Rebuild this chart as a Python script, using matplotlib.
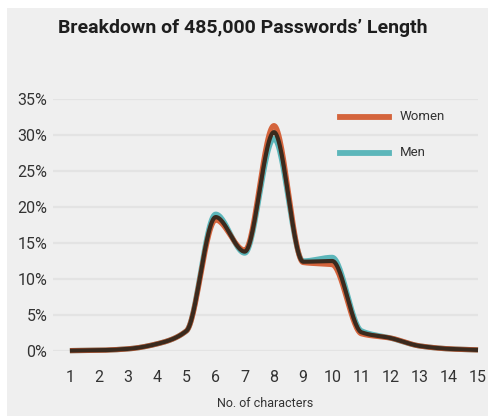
import numpy as np
import matplotlib
matplotlib.use("Agg")
import matplotlib.pyplot as plt
from matplotlib.patches import Rectangle

chars = [1, 2, 3, 4, 5, 6, 7, 8, 9, 10, 11, 12, 13, 14, 15]
women = [0.05, 0.1, 0.3, 1.0, 2.8, 18.2, 14.0, 31.3, 12.3, 12.0, 2.4, 1.8, 0.7, 0.3, 0.15]
men = [0.05, 0.1, 0.3, 1.0, 2.8, 19.0, 13.6, 29.5, 12.5, 13.0, 2.8, 1.8, 0.7, 0.3, 0.15]
yticks = [0, 5, 10, 15, 20, 25, 30, 35]
ytick_labels = ["0%", "5%", "10%", "15%", "20%", "25%", "30%", "35%"]
title = "Breakdown of 485,000 Passwords\u2019 Length"
xlabel = "No. of characters"

W, H = 489, 416
DPI = 100
BG = "#efefef"
C_W = "#d4643c"
C_M = "#5cb6ba"
C_D = "#3a2a1e"


def smooth(x, y, n=30):
    # monotone cubic (Fritsch-Carlson) curve through the points
    x = np.asarray(x, float)
    y = np.asarray(y, float)
    h = np.diff(x)
    d = np.diff(y) / h
    m = np.zeros_like(y)
    m[0], m[-1] = d[0], d[-1]
    for i in range(1, len(y) - 1):
        if d[i - 1] * d[i] <= 0:
            m[i] = 0.0
        else:
            w1 = 2 * h[i] + h[i - 1]
            w2 = h[i] + 2 * h[i - 1]
            m[i] = (w1 + w2) / (w1 / d[i - 1] + w2 / d[i])
    xs, ys = [], []
    t = np.linspace(0, 1, n, endpoint=False)
    for i in range(len(x) - 1):
        h00 = 2 * t ** 3 - 3 * t ** 2 + 1
        h10 = t ** 3 - 2 * t ** 2 + t
        h01 = -2 * t ** 3 + 3 * t ** 2
        h11 = t ** 3 - t ** 2
        yy = h00 * y[i] + h10 * h[i] * m[i] + h01 * y[i + 1] + h11 * h[i] * m[i + 1]
        xs.append(x[i] + h[i] * t)
        ys.append(yy)
    xs.append([x[-1]])
    ys.append([y[-1]])
    return np.concatenate(xs), np.concatenate(ys)


plt.rcParams["font.family"] = ["Roboto", "DejaVu Sans"]
fig = plt.figure(figsize=(W / DPI, H / DPI), dpi=DPI)
fig.patch.set_facecolor(BG)
fig.patches.append(Rectangle((0, 0), 1, 1, transform=fig.transFigure,
                             facecolor="white", edgecolor="none", zorder=-10))
fig.patches.append(Rectangle((7 / W, 0), 1, 1 - 8 / H, transform=fig.transFigure,
                             facecolor=BG, edgecolor="none", zorder=-9))

left, right, top, bottom = 53, 478, 99, 351
ax = fig.add_axes([left / W, 1 - bottom / H, (right - left) / W, (bottom - top) / H])
ax.set_facecolor(BG)
x0 = 1 - 17 / 29.29
x1 = 1 + 408 / 29.29
ax.set_xlim(x0, x1)
ax.set_ylim(0, 35)
for s in ax.spines.values():
    s.set_visible(False)
for yv in yticks:
    ax.axhline(yv, color="#e3e3e3", lw=1.6, zorder=0)
ax.set_yticks(yticks)
ax.set_yticklabels(ytick_labels)
ax.set_xticks(chars)
ax.set_xticklabels([str(c) for c in chars])
ax.tick_params(axis="y", length=0, pad=4, labelsize=11.5, labelcolor="#333333")
ax.tick_params(axis="x", length=0, pad=14, labelsize=11.5, labelcolor="#333333")

xm, ym = smooth(chars, men)
xw, yw = smooth(chars, women)
avg = [(a + b) / 2 for a, b in zip(women, men)]
xa, ya = smooth(chars, avg)
ax.plot(xm, ym, color=C_M, lw=3.8, clip_on=False, solid_capstyle="butt", zorder=3)
ax.plot(xw, yw, color=C_W, lw=3.8, clip_on=False, solid_capstyle="butt", zorder=4)
ax.plot(xa, ya, color=C_D, lw=3.0, clip_on=False, solid_capstyle="butt", zorder=5)

ax.set_xlabel(xlabel, fontsize=9, color="#333333", labelpad=8)

# legend
lx0, lx1 = 340 / W, 389 / W
fig.add_artist(plt.Line2D([lx0, lx1], [1 - 117 / H] * 2, color=C_W, lw=4.2))
fig.add_artist(plt.Line2D([lx0, lx1], [1 - 153 / H] * 2, color=C_M, lw=4.2))
fig.text(400 / W, 1 - 117 / H, "Women", fontsize=9.5, va="center", ha="left", color="#333333")
fig.text(400 / W, 1 - 153 / H, "Men", fontsize=9.5, va="center", ha="left", color="#333333")

fig.text(243 / W, 1 - 28 / H, title, fontsize=14, fontweight="bold", ha="center",
         va="center", color="#1e1e1e")

fig.savefig("out.png", dpi=DPI, facecolor=fig.get_facecolor())
